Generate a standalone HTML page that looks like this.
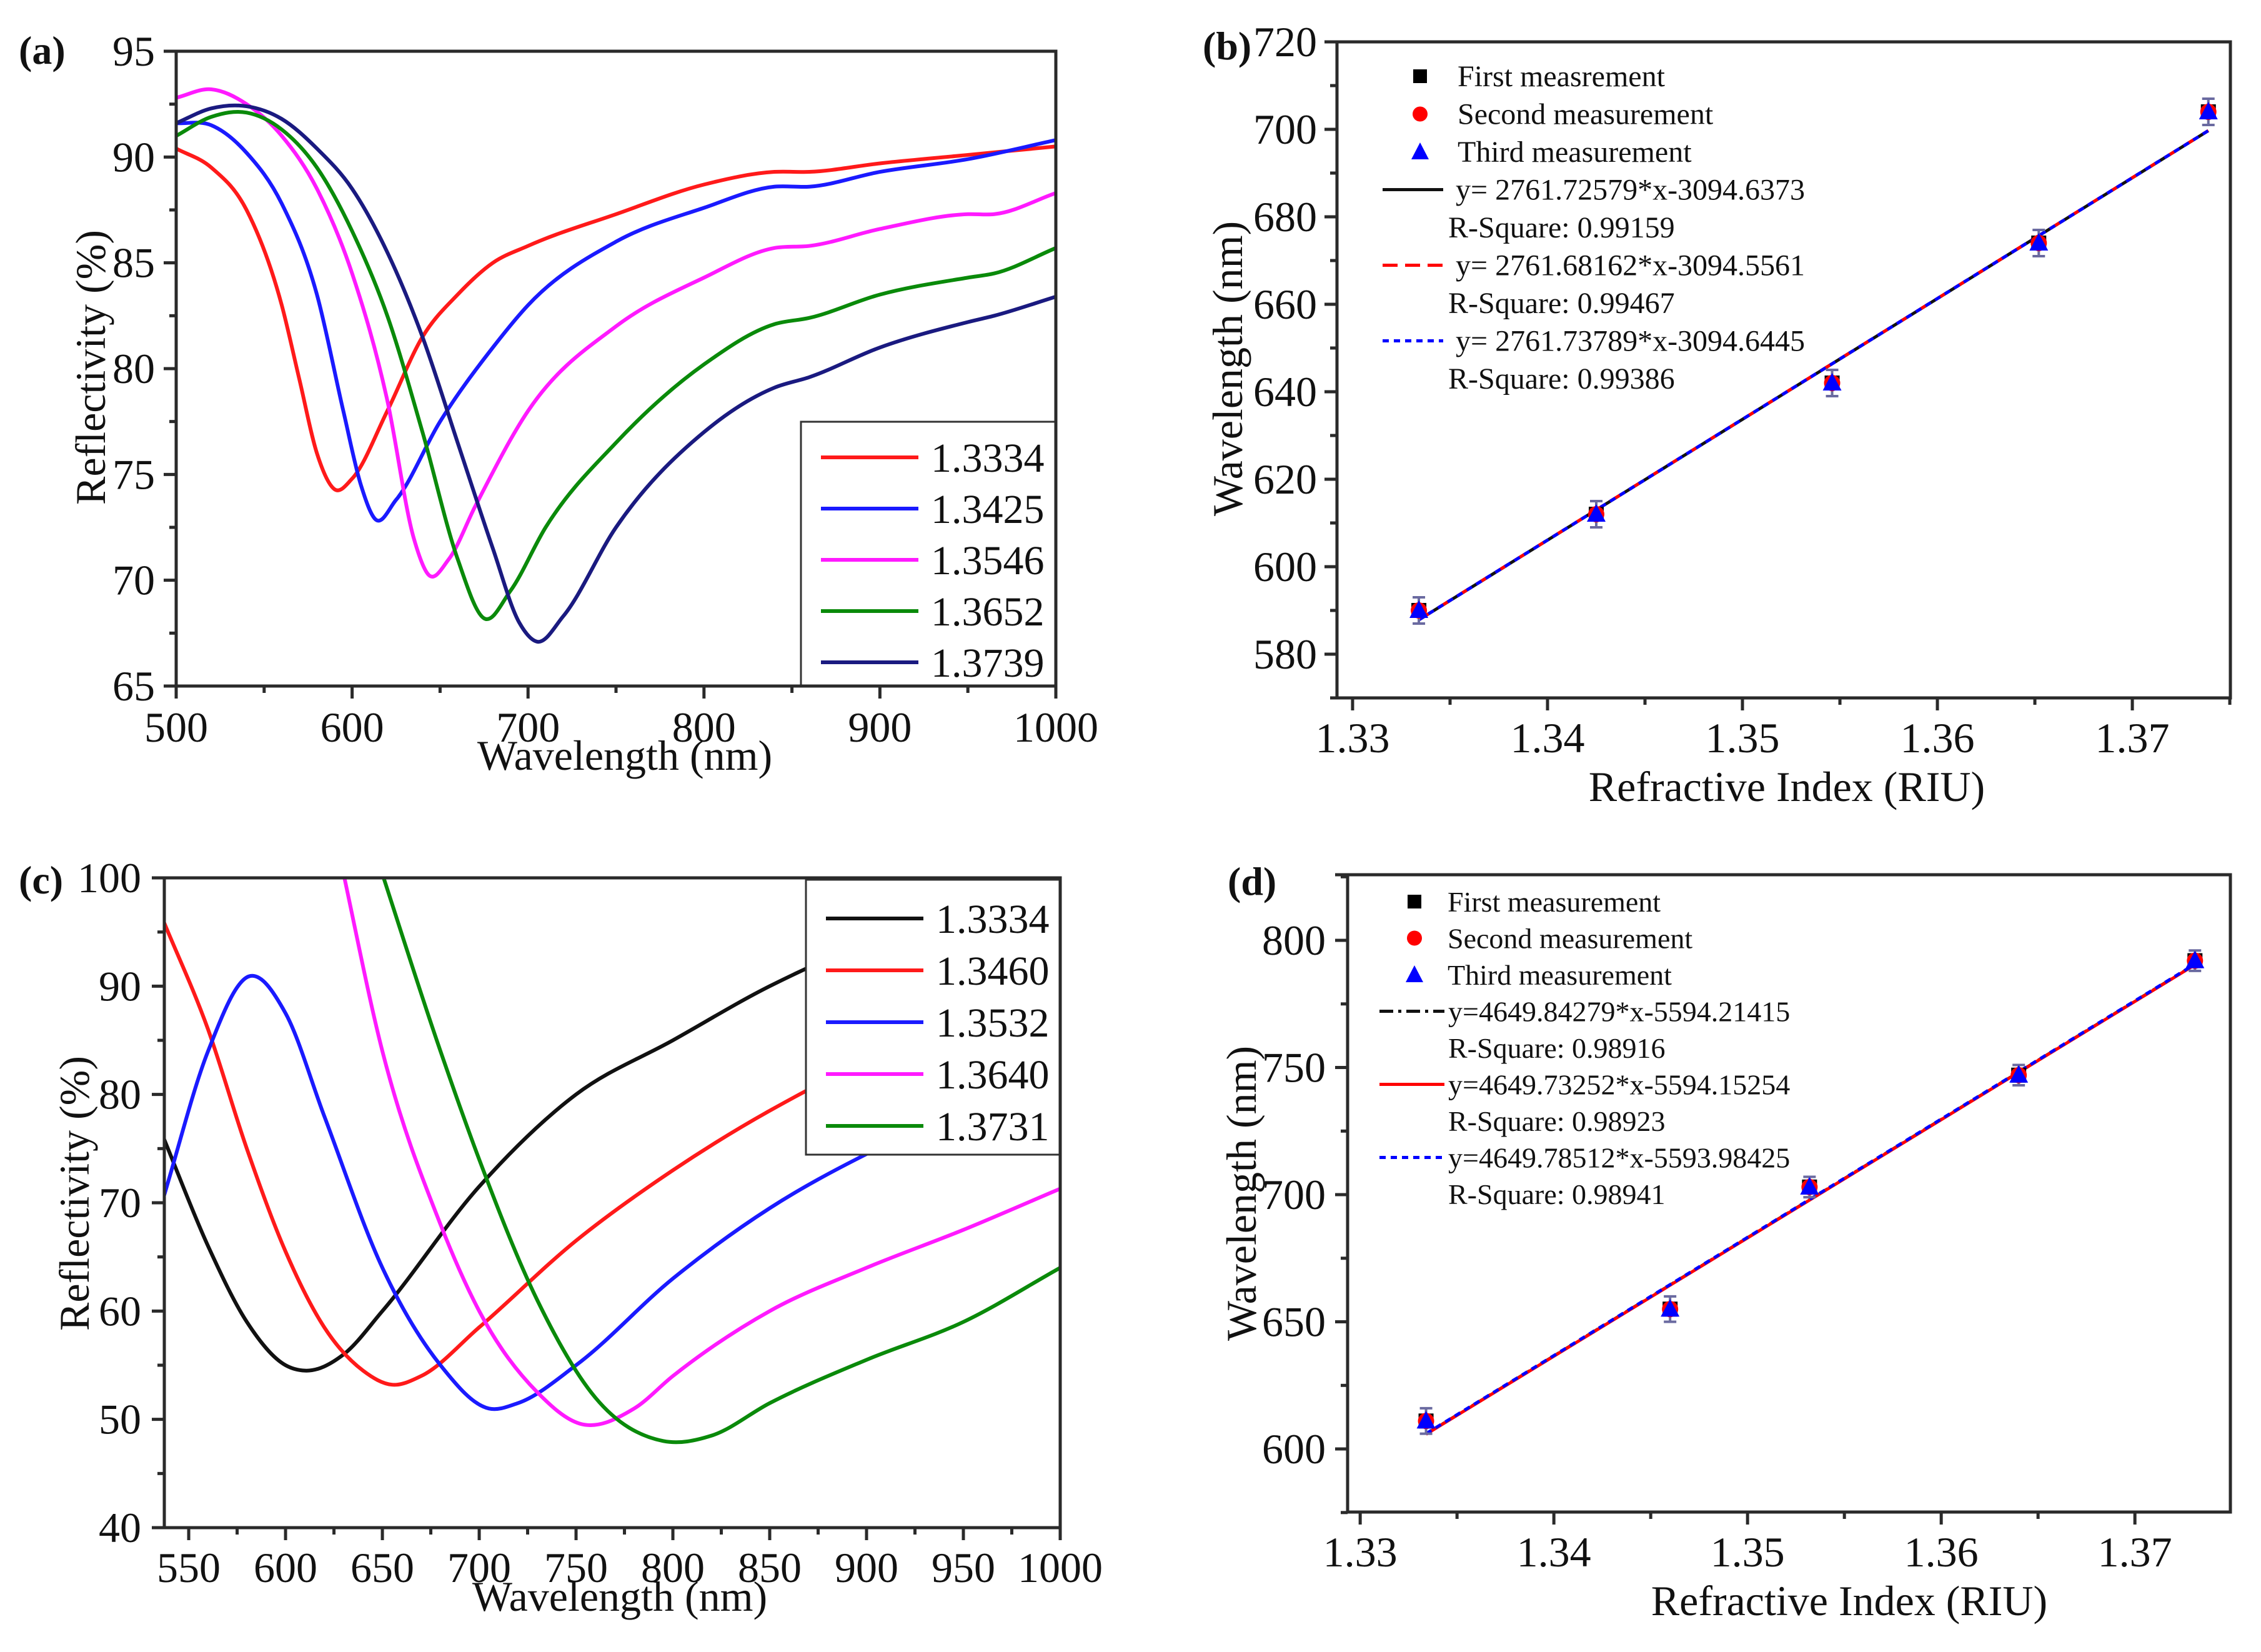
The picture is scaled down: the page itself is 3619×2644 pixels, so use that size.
<!DOCTYPE html>
<html><head><meta charset="utf-8"><style>
html,body{margin:0;padding:0;background:#fff}
svg{display:block}
text{font-family:"Liberation Serif",serif;fill:#111}
</style></head><body>
<svg id="fig" width="3619" height="2644" viewBox="0 0 3619 2644" xmlns="http://www.w3.org/2000/svg"></svg>
<script>
// ---------- Panel (a) data ----------
const aLabels = ["1.3334","1.3425","1.3546","1.3652","1.3739"];
const aColors = ["#ff1a1a","#1a1aff","#ff1aff","#0a8a0a","#1a1a80"];
const aRedX = [500,520,540,560,570,580,590,600,620,640,660,680,700,750,800,840,860,900,950,1000];
const aRedY = [90.4,89.5,87.5,83,79.5,76,74.3,74.8,78,81.5,83.5,85,85.8,87.3,88.7,89.3,89.3,89.7,90.1,90.5];
const aBlueX = [500,520,540,560,580,595,605,613,625,650,680,700,750,800,840,860,900,950,1000];
const aBlueY = [91.6,91.5,90.2,87.8,83.5,78,74.5,72.9,73.8,77.5,81,83,86,87.6,88.6,88.6,89.3,89.9,90.8];
const aMagX = [500,520,540,560,580,600,620,635,643,655,670,700,750,800,840,860,900,950,965,1000];
const aMagY = [92.8,93.2,92.5,91,88.5,84.5,78.5,72,70.3,71,73.5,78,82,84.3,85.7,85.8,86.6,87.3,87.3,88.3];
const aGrnX = [500,520,540,560,580,600,620,640,660,675,690,710,750,800,840,860,900,950,965,1000];
const aGrnY = [91,91.9,92.1,91.3,89.5,86.5,82.5,77,71,68.2,69.5,72.5,76.5,80.2,82.1,82.4,83.5,84.3,84.5,85.7];
const aNavX = [500,520,540,560,580,600,620,640,660,680,695,705,720,750,800,840,860,900,950,965,1000];
const aNavY = [91.6,92.3,92.4,91.8,90.4,88.5,85.5,81.5,76.5,71.5,68,67.1,68.3,72.5,77,79.1,79.6,81,82.2,82.5,83.4];

// ---------- Panel (c) data ----------
const cLabels = ["1.3334","1.3460","1.3532","1.3640","1.3731"];
const cColors = ["#111111","#ff1a1a","#1a1aff","#ff1aff","#0a8a0a"];
const cBlkX = [537,560,580,600,610,630,650,700,750,800,850,900,950,1000];
const cBlkY = [76,66,59,55,54.5,56,60,71.5,80,85,90,94,97,100];
const cRedX = [537,560,580,600,620,640,655,670,700,750,800,850,900,950,1000];
const cRedY = [96,86,75,65.5,58.5,54.5,53.2,54,58.5,66.5,73,78.5,83,86,88];
const cBluX = [537,560,581,600,620,650,680,705,720,750,800,850,900,950,1000];
const cBluY = [70.5,84,90.9,87.5,78,64,55,51,51.5,55,63,69.5,74.5,78.5,81.5];
const cMagX = [628,650,680,700,730,752,780,800,850,900,950,1000];
const cMagY = [102,84,68,60,52.5,49.6,51,54,60,64,67.5,71.3];
const cGrnX = [647,680,700,730,760,795,820,850,900,950,1000];
const cGrnY = [102,84,74,61,52,48,48.5,51.5,55.5,59,64];

// ---------- Panel (b) data ----------
const bRI = [1.3334,1.3425,1.3546,1.3652,1.3739];
const bWL = [590,612,642,674,704];
const bErr = [3,3,3,3,3];
const bSlope = [2761.72579,2761.68162,2761.73789];
const bIntercept = [-3094.6373,-3094.5561,-3094.6445];
const bLegend = ["First measrement","Second measurement","Third measurement","y= 2761.72579*x-3094.6373","R-Square: 0.99159","y= 2761.68162*x-3094.5561","R-Square: 0.99467","y= 2761.73789*x-3094.6445","R-Square: 0.99386"];

// ---------- Panel (d) data ----------
const dRI = [1.3334,1.3460,1.3532,1.3640,1.3731];
const dWL = [611,655,703,747,792];
const dErr = [5,5,4,4,4];
const dSlope = [4649.84279,4649.73252,4649.78512];
const dIntercept = [-5594.21415,-5594.15254,-5593.98425];
const dLegend = ["First measurement","Second measurement","Third measurement","y=4649.84279*x-5594.21415","R-Square: 0.98916","y=4649.73252*x-5594.15254","R-Square: 0.98923","y=4649.78512*x-5593.98425","R-Square: 0.98941"];

const NS="http://www.w3.org/2000/svg";
const svg=document.getElementById('fig');
function mk(tag,attrs,parent){const e=document.createElementNS(NS,tag);for(const k in attrs)e.setAttribute(k,attrs[k]);(parent||svg).appendChild(e);return e;}
function txt(s,x,y,size,anchor,parent,extra){const t=mk('text',Object.assign({x:x,y:y,'font-size':size,'text-anchor':anchor||'start'},extra||{}),parent);t.textContent=s;return t;}

function makeAxes(p){
  const g=mk('g',{});
  
  
  p.sx=v=>p.x0+(v-p.xmin)/(p.xmax-p.xmin)*(p.x1-p.x0);
  p.sy=v=>p.y1-(v-p.ymin)/(p.ymax-p.ymin)*(p.y1-p.y0);
  const cid='clip-'+p.name;
  const cp=mk('clipPath',{id:cid},g);mk('rect',{x:p.x0,y:p.y0,width:p.x1-p.x0,height:p.y1-p.y0},cp);
  p.g=g;p.clip=cid;
  return g;
}
function drawFrame(p){
  const g=p.g;
  const ax=mk('g',{stroke:'#2a2a2a','stroke-width':5,fill:'none'},g);
  
  
  mk('rect',{x:p.x0,y:p.y0,width:p.x1-p.x0,height:p.y1-p.y0},ax);
  mk('line',{x1:p.x0-20,y1:p.y0,x2:p.x0,y2:p.y0},ax);
  for(let v=p.xminor0;v<=p.xmax+1e-9;v+=p.xminor){
    const major=Math.abs(((v-p.xmajor0)/p.xmajor)-Math.round((v-p.xmajor0)/p.xmajor))<1e-6;
    const x=p.sx(v);
    mk('line',{x1:x,y1:p.y1,x2:x,y2:p.y1+(major?20:11)},ax);
  }
  for(let v=p.yminor0;v<=p.ymax+1e-9;v+=p.yminor){
    const major=Math.abs(((v-p.ymajor0)/p.ymajor)-Math.round((v-p.ymajor0)/p.ymajor))<1e-6;
    const y=p.sy(v);
    mk('line',{x1:p.x0,y1:y,x2:p.x0-(major?20:11),y2:y},ax);
  }
  p.xticks.forEach(v=>{const t=txt(p.xfmt(v),p.sx(v),p.xlabY,68,'middle',g);});
  p.yticks.forEach(v=>{const t=txt(p.yfmt(v),p.ylabX,p.sy(v)+23,68,'end',g);});
  const xt=txt(p.xtitle,p.xtitleX,p.xtitleY,68,'middle',g);
  
  const yt=txt(p.ytitle,0,0,68,'middle',g,{transform:`translate(${p.ytitleX},${p.ytitleY}) rotate(-90)`});
  
  const pl=txt(p.letter,p.letterX,p.letterY,64,'start',g,{'font-weight':'bold'});
  
}
// Hermite spline in data space with nonuniform finite-difference tangents
function spline(p,xs,ys){
  const n=xs.length,m=[];
  for(let i=0;i<n;i++){
    if(i===0) m.push((ys[1]-ys[0])/(xs[1]-xs[0]));
    else if(i===n-1) m.push((ys[n-1]-ys[n-2])/(xs[n-1]-xs[n-2]));
    else{
      const d0=(ys[i]-ys[i-1])/(xs[i]-xs[i-1]),d1=(ys[i+1]-ys[i])/(xs[i+1]-xs[i]);
      const h0=xs[i]-xs[i-1],h1=xs[i+1]-xs[i];
      m.push((d0*h1+d1*h0)/(h0+h1));
    }
  }
  let d=`M${p.sx(xs[0])},${p.sy(ys[0])}`;
  for(let i=0;i<n-1;i++){
    const h=xs[i+1]-xs[i];
    const c1x=xs[i]+h/3,c1y=ys[i]+m[i]*h/3;
    const c2x=xs[i+1]-h/3,c2y=ys[i+1]-m[i+1]*h/3;
    d+=` C${p.sx(c1x)},${p.sy(c1y)} ${p.sx(c2x)},${p.sy(c2y)} ${p.sx(xs[i+1])},${p.sy(ys[i+1])}`;
  }
  return d;
}
function curves(p,series,colors,labels,leg){
  const cg=mk('g',{'clip-path':`url(#${p.clip})`},p.g);
  series.forEach((s,i)=>{
    const path=mk('path',{d:spline(p,s[0],s[1]),fill:'none',stroke:colors[i],'stroke-width':6,'stroke-linejoin':'round'},cg);
    
    
  });
  const lg=mk('g',{},p.g);
  
  
  mk('rect',{x:leg.x,y:leg.y,width:leg.w,height:leg.h,fill:'#fff',stroke:'#333','stroke-width':3},lg);
  labels.forEach((l,i)=>{
    const y=leg.row0+i*leg.dy;
    const e=mk('g',{},lg);
    
    
    mk('line',{x1:leg.x+32,y1:y,x2:leg.x+188,y2:y,stroke:colors[i],'stroke-width':6},e);
    txt(l,leg.x+208,y+23,66,'start',e);
  });
}
function scatterPanel(p,ri,wl,err,slope,icpt,legend,lineStyles,leg){
  const cg=mk('g',{'clip-path':`url(#${p.clip})`},p.g);
  lineStyles.forEach((ls,k)=>{
    const xa=ri[0],xb=ri[ri.length-1];
    const l=mk('line',{x1:p.sx(xa),y1:p.sy(slope[k]*xa+icpt[k]),x2:p.sx(xb),y2:p.sy(slope[k]*xb+icpt[k]),stroke:ls.c,'stroke-width':5,'stroke-dasharray':ls.d},cg);
    
    
  });
  ri.forEach((r,i)=>{
    const x=p.sx(r),y=p.sy(wl[i]);
    const g=mk('g',{},cg);
    
    
    const ya=p.sy(wl[i]+err[i]),yb=p.sy(wl[i]-err[i]);
    mk('line',{x1:x,y1:ya,x2:x,y2:yb,stroke:'#6a6aa0','stroke-width':4},g);
    mk('line',{x1:x-10,y1:ya,x2:x+10,y2:ya,stroke:'#6a6aa0','stroke-width':4},g);
    mk('line',{x1:x-10,y1:yb,x2:x+10,y2:yb,stroke:'#6a6aa0','stroke-width':4},g);
    mk('rect',{x:x-12,y:y-12,width:24,height:24,fill:'#000'},g);
    mk('circle',{cx:x,cy:y,r:13,fill:'#f00'},g);
    mk('polygon',{points:`${x},${y-16} ${x-15},${y+12} ${x+15},${y+12}`,fill:'#00f'},g);
  });
  const lg=mk('g',{},p.g);
  
  
  legend.forEach((s,i)=>{
    const y=leg.row0+i*leg.dy;
    const e=mk('g',{},lg);
    
    
    let tx=leg.tx;
    if(i===0) mk('rect',{x:leg.mx-11,y:y-11,width:22,height:22,fill:'#000'},e);
    else if(i===1) mk('circle',{cx:leg.mx,cy:y,r:12,fill:'#f00'},e);
    else if(i===2) mk('polygon',{points:`${leg.mx},${y-15} ${leg.mx-14},${y+12} ${leg.mx+14},${y+12}`,fill:'#00f'},e);
    else if(i%2===1){const ls=lineStyles[(i-3)/2];mk('line',{x1:leg.lx0,y1:y,x2:leg.lx1,y2:y,stroke:ls.c,'stroke-width':5,'stroke-dasharray':ls.d},e);tx=leg.ytx;}
    else tx=leg.rtx;
    txt(s,tx,y+16,leg.fs,'start',e);
  });
}

// Panel a
const pa={name:'panel-a',x0:282,x1:1690,y0:82,y1:1098,xmin:500,xmax:1000,ymin:65,ymax:95,
  xminor0:500,xminor:50,xmajor0:500,xmajor:100,yminor0:65,yminor:2.5,ymajor0:65,ymajor:5,
  xticks:[500,600,700,800,900,1000],yticks:[65,70,75,80,85,90,95],xfmt:v=>String(v),yfmt:v=>String(v),
  xlabY:1187,ylabX:248,xtitle:'Wavelength (nm)',xtitleX:1000,xtitleY:1232,ytitle:'Reflectivity (%)',ytitleX:168,ytitleY:588,
  letter:'(a)',letterX:30,letterY:102};
makeAxes(pa);
curves(pa,[[aRedX,aRedY],[aBlueX,aBlueY],[aMagX,aMagY],[aGrnX,aGrnY],[aNavX,aNavY]],aColors,aLabels,{x:1282,y:675,w:408,h:423,row0:732,dy:82});
drawFrame(pa);

// Panel c
const pc={name:'panel-c',x0:263,x1:1697,y0:1405,y1:2445,xmin:537.4,xmax:1000,ymin:40,ymax:100,
  xminor0:550,xminor:25,xmajor0:550,xmajor:50,yminor0:40,yminor:5,ymajor0:40,ymajor:10,
  xticks:[550,600,650,700,750,800,850,900,950,1000],yticks:[40,50,60,70,80,90,100],xfmt:v=>String(v),yfmt:v=>String(v),
  xlabY:2532,ylabX:226,xtitle:'Wavelength (nm)',xtitleX:992,xtitleY:2578,ytitle:'Reflectivity (%)',ytitleX:142,ytitleY:1910,
  letter:'(c)',letterX:30,letterY:1430};
makeAxes(pc);
curves(pc,[[cBlkX,cBlkY],[cRedX,cRedY],[cBluX,cBluY],[cMagX,cMagY],[cGrnX,cGrnY]],cColors,cLabels,{x:1290,y:1408,w:407,h:440,row0:1470,dy:83});
drawFrame(pc);

// Panel b
const pb={name:'panel-b',x0:2140,x1:3570,y0:67,y1:1117,xmin:1.3292,xmax:1.37503,ymin:570,ymax:720,
  xminor0:1.33,xminor:0.005,xmajor0:1.33,xmajor:0.01,yminor0:570,yminor:10,ymajor0:580,ymajor:20,
  xticks:[1.33,1.34,1.35,1.36,1.37],yticks:[580,600,620,640,660,680,700,720],xfmt:v=>v.toFixed(2),yfmt:v=>String(v),
  xlabY:1204,ylabX:2108,xtitle:'Refractive Index (RIU)',xtitleX:2860,xtitleY:1282,ytitle:'Wavelength (nm)',ytitleX:1988,ytitleY:590,
  letter:'(b)',letterX:1925,letterY:95};
makeAxes(pb);
scatterPanel(pb,bRI,bWL,bErr,bSlope,bIntercept,bLegend,[{c:'#111',d:'none'},{c:'#f00',d:'24 12'},{c:'#00f',d:'10 8'}],
  {row0:122,dy:60.5,mx:2273,tx:2333,lx0:2213,lx1:2310,ytx:2330,rtx:2318,fs:48});
drawFrame(pb);

// Panel d
const pd={name:'panel-d',x0:2157,x1:3570,y0:1400,y1:2420,xmin:1.32935,xmax:1.37493,ymin:575.2,ymax:825.8,
  xminor0:1.33,xminor:0.005,xmajor0:1.33,xmajor:0.01,yminor0:575,yminor:25,ymajor0:600,ymajor:50,
  xticks:[1.33,1.34,1.35,1.36,1.37],yticks:[600,650,700,750,800],xfmt:v=>v.toFixed(2),yfmt:v=>String(v),
  xlabY:2507,ylabX:2122,xtitle:'Refractive Index (RIU)',xtitleX:2960,xtitleY:2585,ytitle:'Wavelength (nm)',ytitleX:2010,ytitleY:1910,
  letter:'(d)',letterX:1965,letterY:1432};
makeAxes(pd);
scatterPanel(pd,dRI,dWL,dErr,dSlope,dIntercept,dLegend,[{c:'#111',d:'22 8 5 8'},{c:'#f00',d:'none'},{c:'#00f',d:'10 8'}],
  {row0:1443,dy:58.5,mx:2264,tx:2317,lx0:2208,lx1:2312,ytx:2318,rtx:2318,fs:46});
drawFrame(pd);
</script>
</body></html>
